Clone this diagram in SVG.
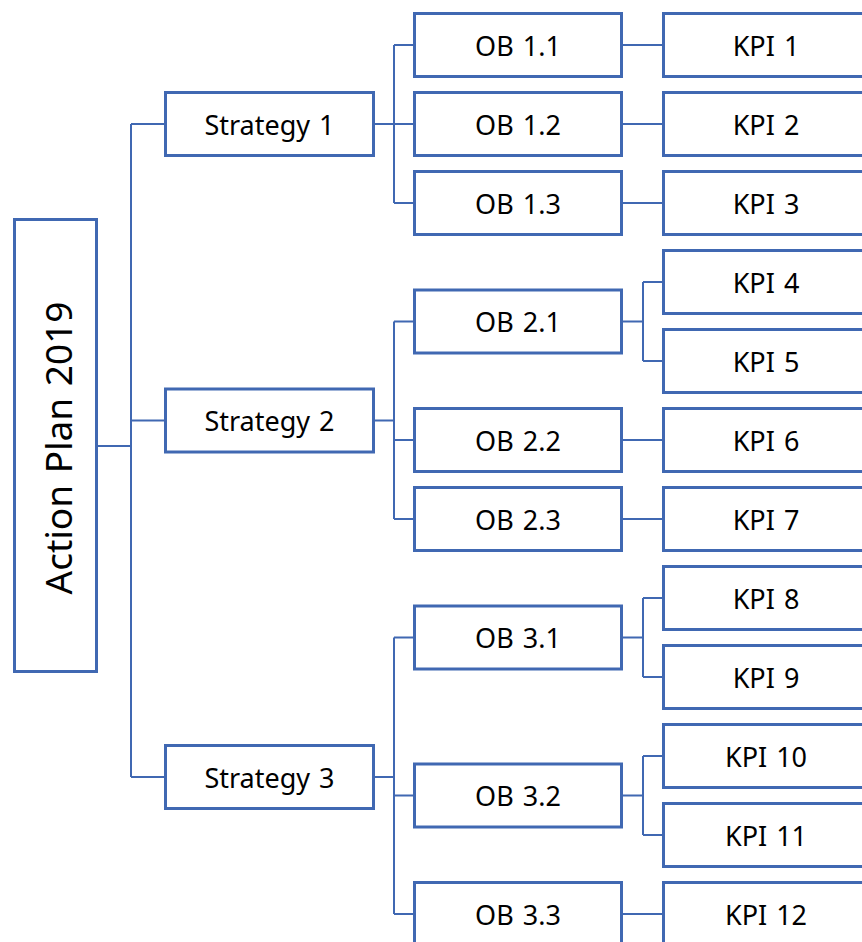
<svg xmlns="http://www.w3.org/2000/svg" width="862" height="942" viewBox="0 0 862 942">
<style>
.box{fill:#fff;stroke:#4068B2;stroke-width:3}
.lbl{font-family:"Noto Sans","Open Sans",sans-serif;font-size:27px;word-spacing:2px;fill:#000;text-anchor:middle;dominant-baseline:central}
.root{font-size:37px}
.con{fill:none;stroke:#4068B2;stroke-width:2}
</style>
<rect width="862" height="942" fill="#fff"/>
<g id="connectors">
<path class="con" d="M97 446H131M131 124V777M131 124H165M131 420.5H165M131 777H165"/>
<path class="con" d="M374 124H394M394 45V203M394 45H414M394 124H414M394 203H414"/>
<path class="con" d="M374 420.5H394M394 321.5V519M394 321.5H414M394 440H414M394 519H414"/>
<path class="con" d="M374 777H394M394 637.5V914M394 637.5H414M394 795.5H414M394 914H414"/>
<path class="con" d="M622 45H663M622 124H663M622 203H663M622 440H663M622 519H663M622 914H663"/>
<path class="con" d="M622 321.5H643M643 282V361M643 282H663M643 361H663"/>
<path class="con" d="M622 637.5H643M643 598V677M643 598H663M643 677H663"/>
<path class="con" d="M622 795.5H643M643 756V835M643 756H663M643 835H663"/>
</g>
<g id="root"><rect class="box" x="14.5" y="219.5" width="82" height="452"/><text class="lbl root" transform="translate(57 448) rotate(-90)">Action Plan 2019</text></g>
<g id="s1"><rect class="box" x="165.5" y="92.5" width="208" height="63"/><text class="lbl" x="269.5" y="124">Strategy 1</text></g>
<g id="s2"><rect class="box" x="165.5" y="389" width="208" height="63"/><text class="lbl" x="269.5" y="420.5">Strategy 2</text></g>
<g id="s3"><rect class="box" x="165.5" y="745.5" width="208" height="63"/><text class="lbl" x="269.5" y="777">Strategy 3</text></g>
<g id="ob11"><rect class="box" x="414.5" y="13.5" width="207" height="63"/><text class="lbl" x="518" y="45">OB 1.1</text></g>
<g id="ob12"><rect class="box" x="414.5" y="92.5" width="207" height="63"/><text class="lbl" x="518" y="124">OB 1.2</text></g>
<g id="ob13"><rect class="box" x="414.5" y="171.5" width="207" height="63"/><text class="lbl" x="518" y="203">OB 1.3</text></g>
<g id="ob21"><rect class="box" x="414.5" y="290" width="207" height="63"/><text class="lbl" x="518" y="321.5">OB 2.1</text></g>
<g id="ob22"><rect class="box" x="414.5" y="408.5" width="207" height="63"/><text class="lbl" x="518" y="440">OB 2.2</text></g>
<g id="ob23"><rect class="box" x="414.5" y="487.5" width="207" height="63"/><text class="lbl" x="518" y="519">OB 2.3</text></g>
<g id="ob31"><rect class="box" x="414.5" y="606" width="207" height="63"/><text class="lbl" x="518" y="637.5">OB 3.1</text></g>
<g id="ob32"><rect class="box" x="414.5" y="764" width="207" height="63"/><text class="lbl" x="518" y="795.5">OB 3.2</text></g>
<g id="ob33"><rect class="box" x="414.5" y="882.5" width="207" height="63"/><text class="lbl" x="518" y="914">OB 3.3</text></g>
<g id="kpi1"><rect class="box" x="663.5" y="13.5" width="207" height="63"/><text class="lbl" x="766" y="45">KPI 1</text></g>
<g id="kpi2"><rect class="box" x="663.5" y="92.5" width="207" height="63"/><text class="lbl" x="766" y="124">KPI 2</text></g>
<g id="kpi3"><rect class="box" x="663.5" y="171.5" width="207" height="63"/><text class="lbl" x="766" y="203">KPI 3</text></g>
<g id="kpi4"><rect class="box" x="663.5" y="250.5" width="207" height="63"/><text class="lbl" x="766" y="282">KPI 4</text></g>
<g id="kpi5"><rect class="box" x="663.5" y="329.5" width="207" height="63"/><text class="lbl" x="766" y="361">KPI 5</text></g>
<g id="kpi6"><rect class="box" x="663.5" y="408.5" width="207" height="63"/><text class="lbl" x="766" y="440">KPI 6</text></g>
<g id="kpi7"><rect class="box" x="663.5" y="487.5" width="207" height="63"/><text class="lbl" x="766" y="519">KPI 7</text></g>
<g id="kpi8"><rect class="box" x="663.5" y="566.5" width="207" height="63"/><text class="lbl" x="766" y="598">KPI 8</text></g>
<g id="kpi9"><rect class="box" x="663.5" y="645.5" width="207" height="63"/><text class="lbl" x="766" y="677">KPI 9</text></g>
<g id="kpi10"><rect class="box" x="663.5" y="724.5" width="207" height="63"/><text class="lbl" x="766" y="756">KPI 10</text></g>
<g id="kpi11"><rect class="box" x="663.5" y="803.5" width="207" height="63"/><text class="lbl" x="766" y="835">KPI 11</text></g>
<g id="kpi12"><rect class="box" x="663.5" y="882.5" width="207" height="63"/><text class="lbl" x="766" y="914">KPI 12</text></g>
</svg>
